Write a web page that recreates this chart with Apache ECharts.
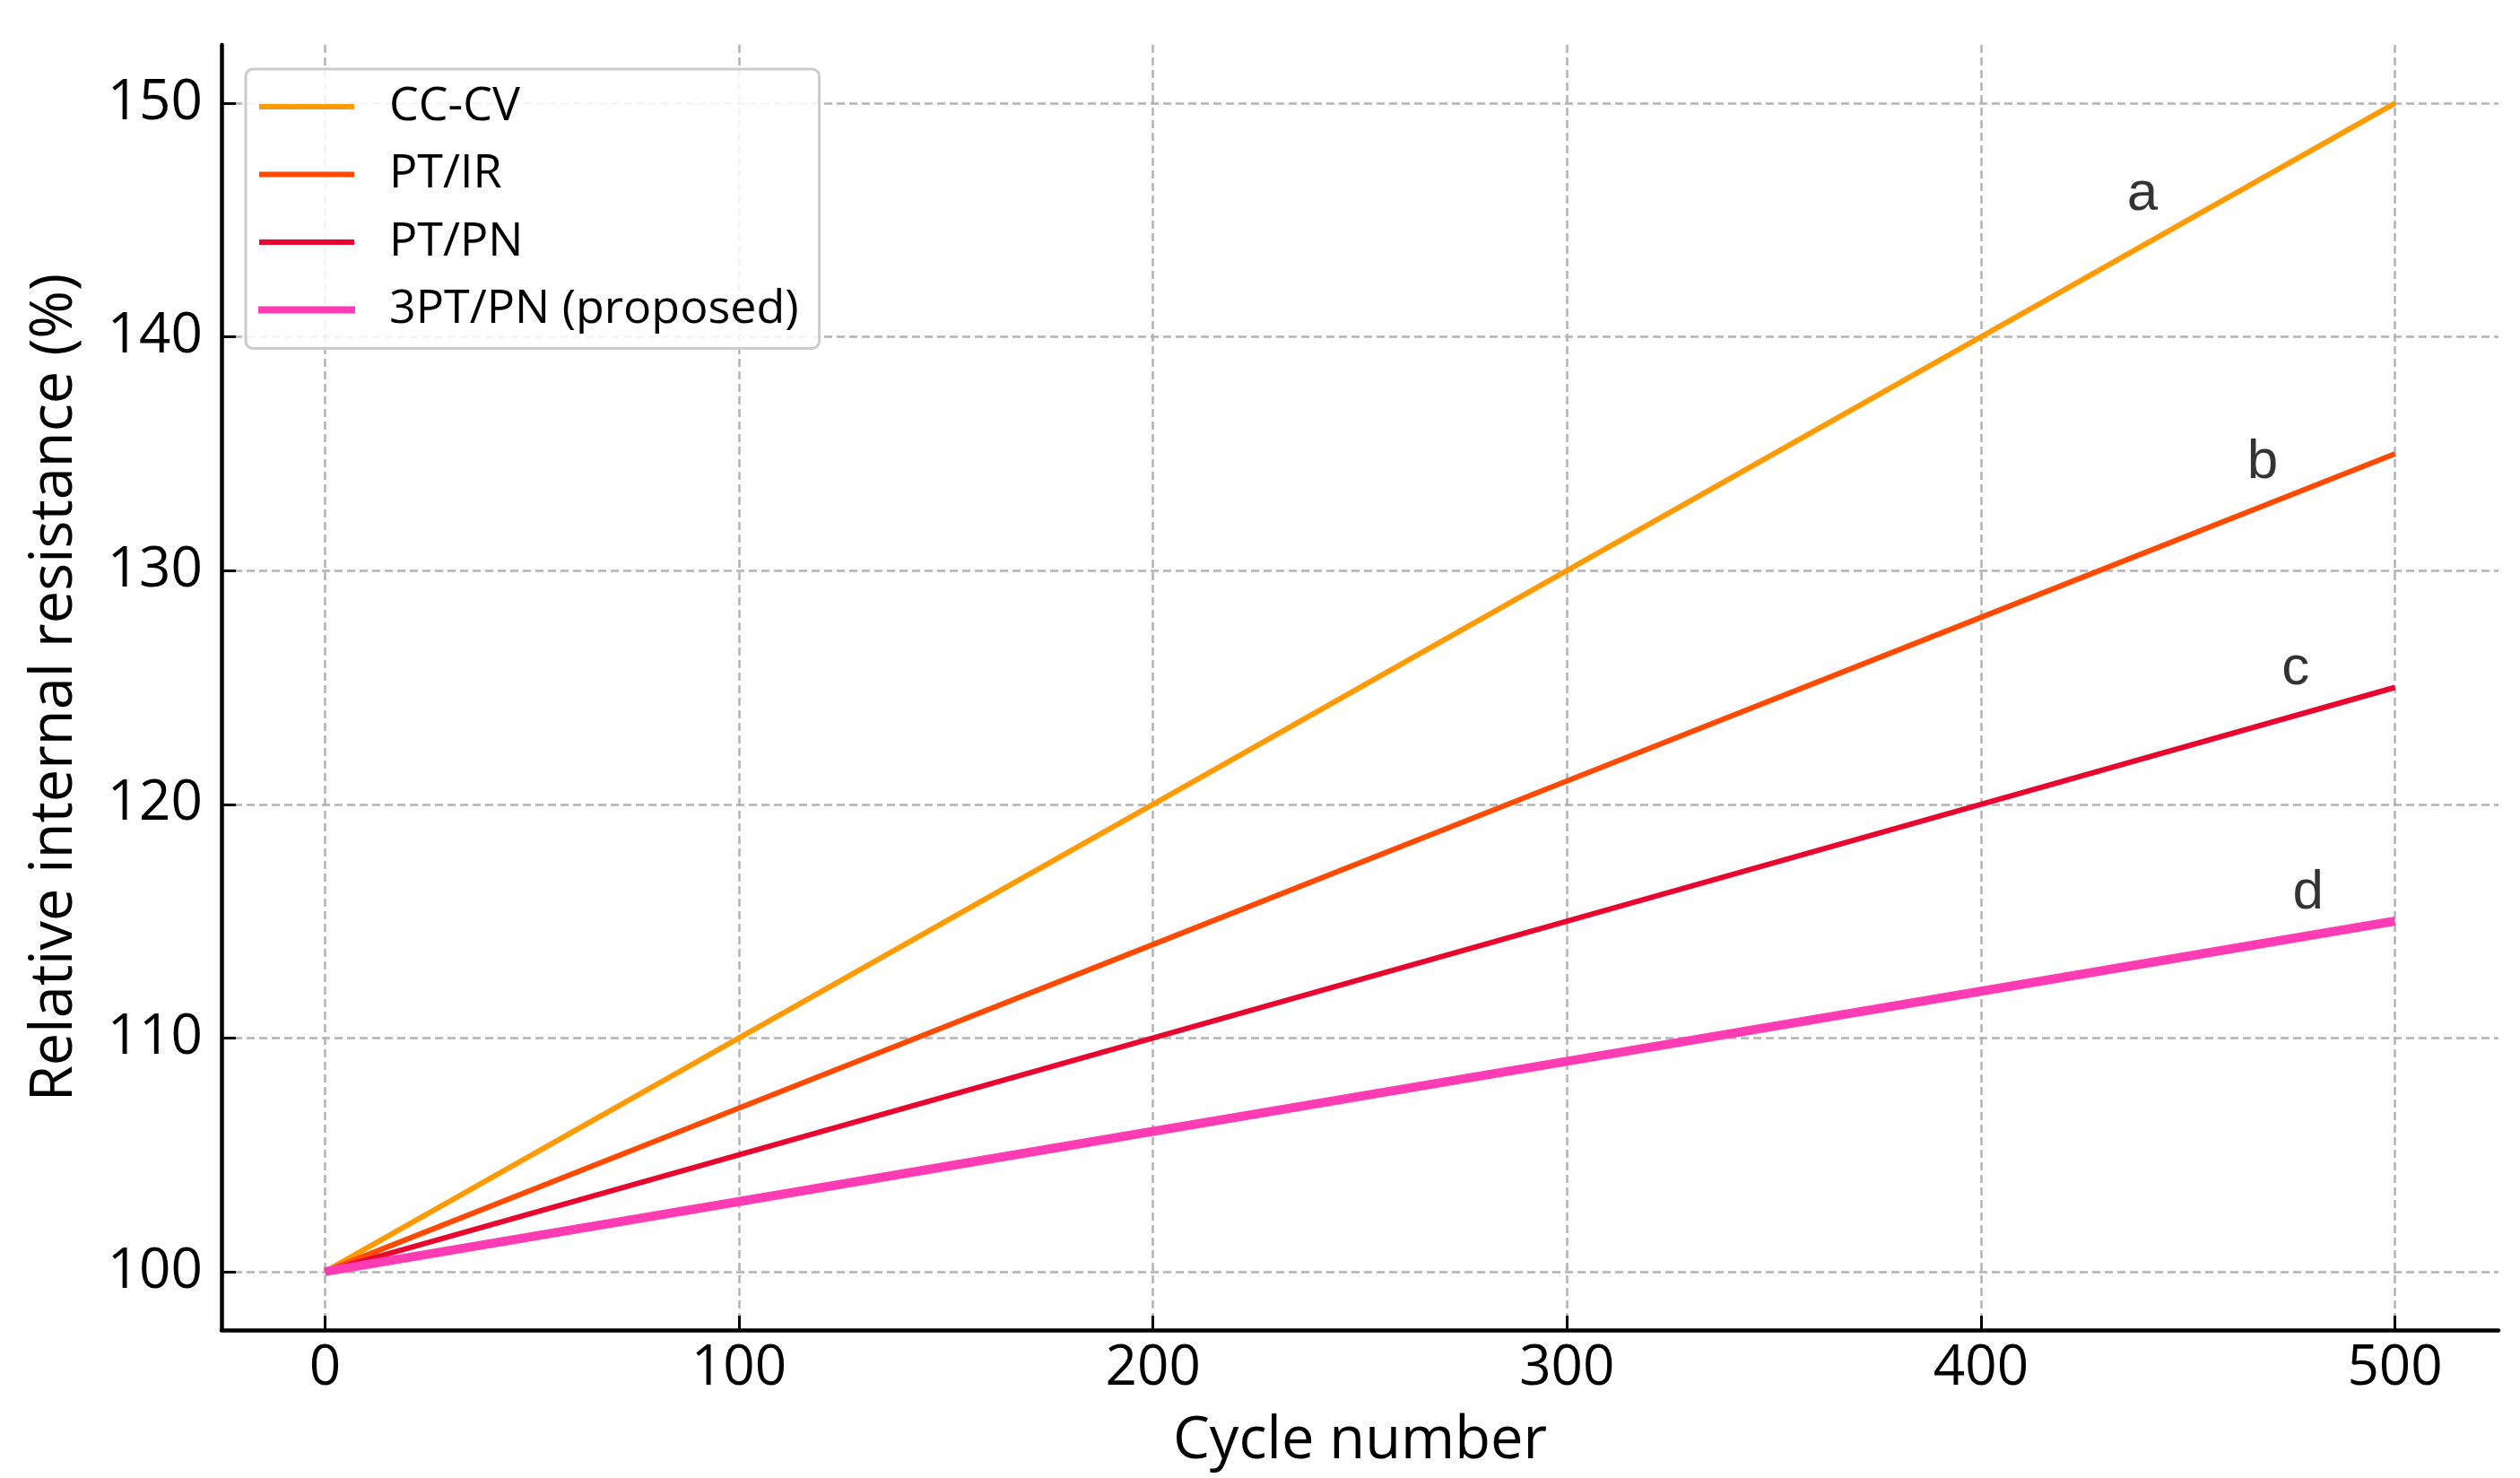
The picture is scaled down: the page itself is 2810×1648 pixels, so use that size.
<!DOCTYPE html>
<html>
<head>
<meta charset="utf-8">
<script src="https://cdn.jsdelivr.net/npm/echarts@6/dist/echarts.min.js"></script>
<style>
html,body{margin:0;padding:0;background:#fff;}
#c{width:2810px;height:1648px;}
</style>
</head>
<body>
<div id="c"></div>
<script>
var cycles = [0, 100, 200, 300, 400, 500];
var seriesNames = ['CC-CV', 'PT/IR', 'PT/PN', '3PT/PN (proposed)'];
var ccCv = [100, 110, 120, 130, 140, 150];
var ptIr = [100, 107, 114, 121, 128, 135];
var ptPn = [100, 105, 110, 115, 120, 125];
var pt3Pn = [100, 103, 106, 109, 112, 115];
var xTicks = [0, 100, 200, 300, 400, 500];
var yTicks = [100, 110, 120, 130, 140, 150];
var tagNames = ['a', 'b', 'c', 'd'];
var tagX = [439, 468, 476, 479];
var tagY = [146.1, 134.6, 125.8, 116.2];

var colors = ['#FF9A00', '#FF4A00', '#E8062E', '#FF3CB4'];
var widths = [6, 6, 6, 10];
var values = [ccCv, ptIr, ptPn, pt3Pn];

function pairs(xs, ys) { return xs.map(function (x, i) { return [x, ys[i]]; }); }

var series = seriesNames.map(function (n, i) {
  return {
    name: n, type: 'line', data: pairs(cycles, values[i]),
    symbol: 'none', showSymbol: false,
    lineStyle: { color: colors[i], width: widths[i], cap: 'butt' },
    itemStyle: { color: colors[i] },
    z: 2 + i
  };
});
series.push({
  type: 'scatter', name: 'tags', symbolSize: 0, silent: true, z: 10,
  itemStyle: { color: '#000' },
  data: tagNames.map(function (t, i) { return { name: t, value: [tagX[i], tagY[i]] }; }),
  label: { show: true, position: 'inside', formatter: '{b}', color: '#000', textBorderWidth: 0,
    fontFamily: 'Liberation Sans, Arial, sans-serif', fontSize: 62 }
});

var legendData = seriesNames.map(function (n, i) {
  var it = { name: n, itemStyle: { color: colors[i] } };
  if (i === 3) { it.itemStyle.borderColor = colors[i]; it.itemStyle.borderWidth = 2; }
  else { it.itemStyle.borderWidth = 0; }
  return it;
});

var axisFont = 'Open Sans, sans-serif';
var chart = echarts.init(document.getElementById('c'), null, { renderer: 'canvas' });
chart.setOption({
  animation: false,
  backgroundColor: '#ffffff',
  grid: { left: 247, right: 24, top: 50, bottom: 165, containLabel: false },
  legend: {
    orient: 'vertical', left: 274, top: 77,
    data: legendData, icon: 'rect', itemWidth: 106, itemHeight: 6, itemGap: 23.5,
    padding: [16, 23, 17, 14],
    backgroundColor: 'rgba(255,255,255,0.85)', borderColor: '#cccccc', borderWidth: 3, borderRadius: 8,
    textStyle: { fontFamily: axisFont, fontSize: 52, lineHeight: 52, color: '#000', padding: [0, 0, 0, 34] },
    selectedMode: false
  },
  xAxis: {
    type: 'value', min: -25, max: 525,
    name: 'Cycle number', nameLocation: 'middle', nameGap: 92,
    nameTextStyle: { fontFamily: axisFont, fontSize: 65, color: '#000' },
    axisLine: { show: true, onZero: false, lineStyle: { color: '#000', width: 4.5 } },
    axisTick: { show: true, inside: true, length: 16, lineStyle: { color: '#000', width: 3 }, customValues: xTicks },
    axisLabel: { customValues: xTicks, margin: 12, fontFamily: axisFont, fontSize: 62, color: '#000' },
    splitLine: { show: true, lineStyle: { color: '#b3b3b3', width: 2.5, type: [9, 5] } }
  },
  yAxis: {
    type: 'value', min: 97.5, max: 152.5,
    name: 'Relative internal resistance (%)', nameLocation: 'middle', nameGap: 153, nameRotate: 90,
    nameTextStyle: { fontFamily: axisFont, fontSize: 65, color: '#000' },
    axisLine: { show: true, onZero: false, lineStyle: { color: '#000', width: 4.5 } },
    axisTick: { show: true, inside: true, length: 16, lineStyle: { color: '#000', width: 3 }, customValues: yTicks },
    axisLabel: { customValues: yTicks, margin: 21, fontFamily: axisFont, fontSize: 62, color: '#000' },
    splitLine: { show: true, lineStyle: { color: '#b3b3b3', width: 2.5, type: [9, 5] } }
  },
  series: series
});
</script>
</body>
</html>
